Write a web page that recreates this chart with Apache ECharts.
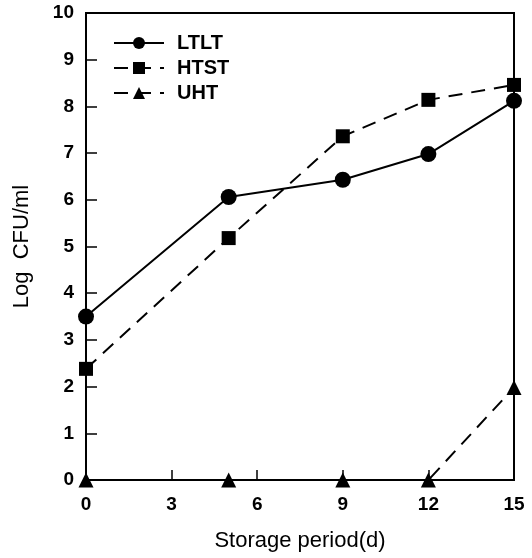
<!DOCTYPE html>
<html>
<head>
<meta charset="utf-8">
<script src="https://cdn.jsdelivr.net/npm/echarts@6/dist/echarts.min.js"></script>
<style>
  html, body { margin: 0; padding: 0; background: #fff; }
  #grafico { width: 532px; height: 558px; }
</style>
</head>
<body>
<div id="grafico"></div>
<script>
// dados
const dias = [0, 5, 9, 12, 15];
const ltlt = [3.5, 6.06, 6.43, 6.98, 8.12];
const htst = [2.38, 5.18, 7.36, 8.14, 8.46];
const uht = [0, 0, 0, 0, 1.98];
const nomes = ["LTLT", "HTST", "UHT"];

const fonte = "Liberation Sans, Arial, sans-serif";
const pares = (vals) => dias.map((d, i) => [d, vals[i]]);

let chart = echarts.init(document.getElementById("grafico"));

chart.setOption({
  animation: false,
  backgroundColor: "#fff",
  grid: {
    left: 86,
    right: 18,
    top: 13,
    bottom: 78,
    show: true,
    borderColor: "#000",
    borderWidth: 2
  },
  legend: {
    orient: "vertical",
    left: 108,
    top: 28,
    itemWidth: 50,
    itemHeight: 15,
    itemGap: 5,
    data: nomes,
    textStyle: {
      fontFamily: fonte,
      fontSize: 20,
      fontWeight: "bold",
      color: "#000",
      padding: [0, 0, 0, 8]
    }
  },
  xAxis: {
    type: "value",
    min: 0,
    max: 15,
    interval: 3,
    name: "Storage period(d)",
    nameLocation: "middle",
    nameGap: 50,
    nameTextStyle: { fontFamily: fonte, fontSize: 22, color: "#000" },
    axisLine: { lineStyle: { color: "#000", width: 2 } },
    axisTick: { inside: true, length: 10, lineStyle: { color: "#000", width: 1.5 } },
    axisLabel: { fontFamily: fonte, fontSize: 19, fontWeight: "bold", color: "#000", margin: 15 },
    splitLine: { show: false }
  },
  yAxis: {
    type: "value",
    min: 0,
    max: 10,
    interval: 1,
    name: "Log  CFU/ml",
    nameLocation: "middle",
    nameGap: 53,
    nameTextStyle: { fontFamily: fonte, fontSize: 22, color: "#000" },
    axisLine: { lineStyle: { color: "#000", width: 2 } },
    axisTick: { inside: true, length: 11, lineStyle: { color: "#000", width: 1.5 } },
    axisLabel: { fontFamily: fonte, fontSize: 19, fontWeight: "bold", color: "#000", margin: 12 },
    splitLine: { show: false }
  },
  series: [
    {
      name: "LTLT",
      type: "line",
      data: pares(ltlt),
      symbol: "circle",
      symbolSize: 16,
      clip: false,
      itemStyle: { color: "#000" },
      lineStyle: { color: "#000", width: 2 }
    },
    {
      name: "HTST",
      type: "line",
      data: pares(htst),
      symbol: "rect",
      symbolSize: 14,
      clip: false,
      itemStyle: { color: "#000" },
      lineStyle: { color: "#000", width: 2, type: [14, 9] }
    },
    {
      name: "UHT",
      type: "line",
      data: pares(uht),
      symbol: "triangle",
      symbolSize: 15,
      clip: false,
      itemStyle: { color: "#000" },
      lineStyle: { color: "#000", width: 2, type: [14, 9] }
    }
  ]
});
</script>
</body>
</html>
